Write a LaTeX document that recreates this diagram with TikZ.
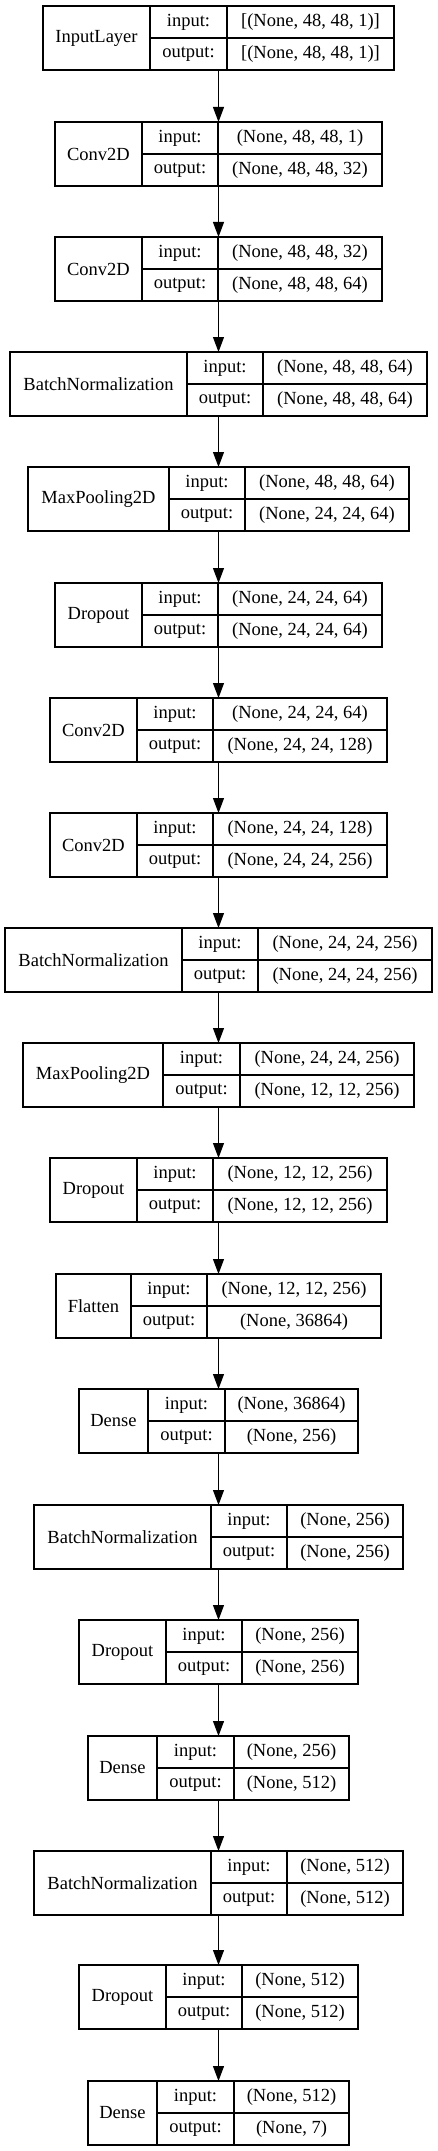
\documentclass[tikz,border=0pt]{standalone}
\usepackage{fontspec}
\setmainfont{Liberation Serif}
\usepackage{tikz}
\usetikzlibrary{arrows.meta}

% one layer: name, top, x0, x1, x2, x3, label, input, output
\newcommand{\layer}[9]{%
  \node[box, minimum width={(#6-#3)*1pt}, minimum height=64pt] (#1) at (#3,#2) {};
  \node[cell, minimum width={(#4-#3)*1pt}, minimum height=64pt] (#1n) at (#1.north west) {#7};
  \node[cell, minimum width={(#5-#4)*1pt}] (#1ki) at (#1n.north east) {input:};
  \node[cell, minimum width={(#5-#4)*1pt}] (#1ko) at (#1ki.south west) {output:};
  \node[cell, minimum width={(#6-#5)*1pt}] (#1vi) at (#1ki.north east) {#8};
  \node[cell, minimum width={(#6-#5)*1pt}] (#1vo) at (#1vi.south west) {#9};
}

\begin{document}
\begin{tikzpicture}[x=1pt,y=-1pt,->,>={Triangle[length=15pt,width=11pt]},
                    line width=1.1pt]
  \tikzset{box/.style={draw=black,anchor=north west,outer sep=0pt,inner sep=0pt},
           cell/.style={box,minimum height=32pt,text=black,
                        font=\fontsize{18.5}{22}\selectfont}}
  \useasboundingbox (0,0) rectangle (437,2151);

  \layer{L0}{6}{43}{150}{227}{394}{InputLayer}{[(None, 48, 48, 1)]}{[(None, 48, 48, 1)]}
  \layer{L1}{122}{55}{142}{218}{382}{Conv2D}{(None, 48, 48, 1)}{(None, 48, 48, 32)}
  \layer{L2}{237}{55}{142}{218}{382}{Conv2D}{(None, 48, 48, 32)}{(None, 48, 48, 64)}
  \layer{L3}{352}{10}{187}{263}{427}{BatchNormalization}{(None, 48, 48, 64)}{(None, 48, 48, 64)}
  \layer{L4}{467}{28}{169}{245}{409}{MaxPooling2D}{(None, 48, 48, 64)}{(None, 24, 24, 64)}
  \layer{L5}{583}{55}{142}{218}{382}{Dropout}{(None, 24, 24, 64)}{(None, 24, 24, 64)}
  \layer{L6}{698}{50}{137}{213}{387}{Conv2D}{(None, 24, 24, 64)}{(None, 24, 24, 128)}
  \layer{L7}{813}{50}{137}{213}{387}{Conv2D}{(None, 24, 24, 128)}{(None, 24, 24, 256)}
  \layer{L8}{928}{5}{182}{258}{432}{BatchNormalization}{(None, 24, 24, 256)}{(None, 24, 24, 256)}
  \layer{L9}{1043}{23}{163}{240}{414}{MaxPooling2D}{(None, 24, 24, 256)}{(None, 12, 12, 256)}
  \layer{L10}{1158}{50}{137}{213}{387}{Dropout}{(None, 12, 12, 256)}{(None, 12, 12, 256)}
  \layer{L11}{1274}{56}{131}{207}{381}{Flatten}{(None, 12, 12, 256)}{(None, 36864)}
  \layer{L12}{1389}{79}{148}{225}{358}{Dense}{(None, 36864)}{(None, 256)}
  \layer{L13}{1505}{34}{211}{287}{403}{BatchNormalization}{(None, 256)}{(None, 256)}
  \layer{L14}{1620}{79}{166}{242}{358}{Dropout}{(None, 256)}{(None, 256)}
  \layer{L15}{1736}{88}{157}{234}{349}{Dense}{(None, 256)}{(None, 512)}
  \layer{L16}{1851}{34}{211}{287}{403}{BatchNormalization}{(None, 512)}{(None, 512)}
  \layer{L17}{1965}{79}{166}{242}{358}{Dropout}{(None, 512)}{(None, 512)}
  \layer{L18}{2081}{88}{157}{234}{349}{Dense}{(None, 512)}{(None, 7)}

  \path (L0) edge (L1)
        (L1) edge (L2)
        (L2) edge (L3)
        (L3) edge (L4)
        (L4) edge (L5)
        (L5) edge (L6)
        (L6) edge (L7)
        (L7) edge (L8)
        (L8) edge (L9)
        (L9) edge (L10)
        (L10) edge (L11)
        (L11) edge (L12)
        (L12) edge (L13)
        (L13) edge (L14)
        (L14) edge (L15)
        (L15) edge (L16)
        (L16) edge (L17)
        (L17) edge (L18);
\end{tikzpicture}
\end{document}
